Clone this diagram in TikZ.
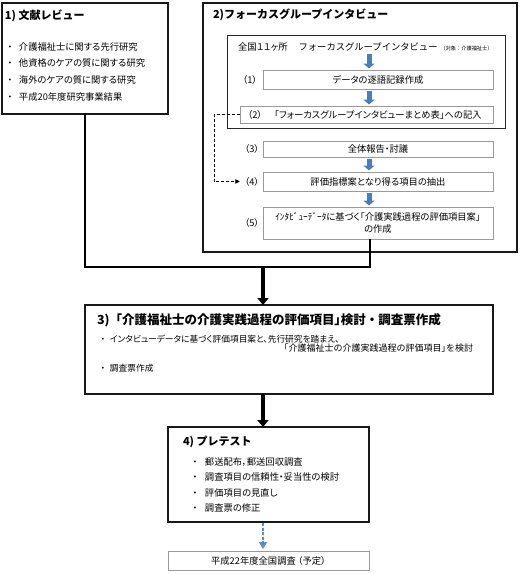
\documentclass[tikz,border=0pt]{standalone}
\usepackage{fontspec}
\setmainfont{Noto Sans CJK JP}[RawFeature={+palt}]
\newfontfamily\fw{Noto Sans CJK JP}
\newfontfamily\pf{Noto Sans CJK JP}[RawFeature={+palt}]
\usetikzlibrary{arrows.meta,calc}
\definecolor{arrowblue}{HTML}{4A7EBB}
\definecolor{dotblue}{HTML}{5B8BC9}
\newcommand\bul[2]{\makebox[#1]{・}#2}
\tikzset{
  bigbox/.style={draw=black!90, line width=1.6pt, rectangle, inner sep=0pt, outer sep=0pt},
  stepbox/.style={draw=black!40, line width=0.6pt, rectangle, inner sep=0pt, outer sep=0pt, font=\fontsize{9.3}{12}\selectfont, align=center},
  txt/.style={inner sep=0pt, outer sep=0pt, font=\fontsize{9.3}{11}\selectfont},
  head/.style={inner sep=0pt, outer sep=0pt, font=\fw\bfseries\fontsize{11}{13}\selectfont, anchor=west},
  conn/.style={line width=2pt, line join=miter},
  bigarrow/.style={line width=4pt, -{Triangle[width=11pt,length=7pt]}},
  bluearrow/.style={draw=arrowblue, line width=5pt, -{Triangle[width=11pt,length=5pt]}, shorten <=1.5pt, shorten >=1.5pt},
  dotarrow/.style={draw=dotblue, line width=2.5pt, dash pattern=on 3pt off 1.5pt, -{Triangle[width=8pt,length=7pt]}},
  dasharrow/.style={dash pattern=on 3pt off 2pt, line width=0.8pt, -{Triangle[width=4.5pt,length=4.5pt]}},
}
\begin{document}
\begin{tikzpicture}[x=1pt,y=-1pt]
\useasboundingbox (0,0) rectangle (520,574);
\fill[white] (0,0) rectangle (520,574);
% Box 1
\node[bigbox, minimum width=166pt, minimum height=111pt] (box1) at (85,58.5) {};
\node[head] (h1) at (5,16) {1) 文献レビュー};
\node[txt, anchor=west] (b1a) at (1,47) {\bul{18pt}{介護福祉士に関する先行研究}};
\node[txt, anchor=west] (b1b) at (1,63) {\bul{18pt}{他資格のケアの質に関する研究}};
\node[txt, anchor=west] (b1c) at (1,80) {\bul{18pt}{海外のケアの質に関する研究}};
\node[txt, anchor=west] (b1d) at (1,97) {\bul{18pt}{平成20年度研究事業結果}};
% Box 2
\node[bigbox, minimum width=314pt, minimum height=249pt] (box2) at (360,127.5) {};
\node[head] (h2) at (213,15) {2)フォーカスグループインタビュー};
\node[draw=black!85, line width=0.8pt, rectangle, minimum width=278pt, minimum height=93pt, inner sep=0pt, outer sep=0pt] (frame) at (366,81.5) {};
\node[txt, anchor=west] (zk) at (238,47) {全国１１ヶ所\hspace{11pt}{\fw\fontsize{9.3}{11}\selectfont フォーカスグループインタビュー}\hspace{3pt}{\fw\fontsize{5.2}{7}\selectfont （対象：介護福祉士）}};
\node[stepbox, minimum width=230pt, minimum height=19pt] (s1) at (378,79.5) {データの逐語記録作成};
\node[stepbox, minimum width=253pt, minimum height=17pt] (s2) at (366.5,114.5) {};
\node[txt] (s2t) at (378,114.5) {「フォーカスグループインタビューまとめ表」への記入};
\node[stepbox, minimum width=230pt, minimum height=16pt] (s3) at (378,149) {全体報告・討議};
\node[stepbox, minimum width=230pt, minimum height=19pt] (s4) at (378,181.5) {評価指標案となり得る項目の抽出};
\node[stepbox, minimum width=230pt, minimum height=32pt] (s5) at (378,223) {ｲﾝﾀﾋﾞｭｰﾃﾞｰﾀに基づく「介護実践過程の評価項目案」\\の作成};
\node[txt] (l1) at (250,80) {（1）};
\node[txt] (l2) at (255,114.5) {（2）};
\node[txt] (l3) at (252,149) {（3）};
\node[txt] (l4) at (252,181.5) {（4）};
\node[txt] (l5) at (252,223) {（5）};
\coordinate (ax) at (369,0);
\draw[bluearrow, shorten <=3pt] (zk.south -| ax) -- (s1.north -| ax);
\draw[bluearrow] (s1.south -| ax) -- (s2.north -| ax);
\draw[bluearrow] (s3.south -| ax) -- (s4.north -| ax);
\draw[bluearrow] (s4.south -| ax) -- (s5.north -| ax);
\draw[dasharrow, shorten >=5pt] (s2.west) -- ++(-26,0) |- (l4.west);
% connectors to box 3
\coordinate (j) at (263,267);
\coordinate (c5) at (370,0);
\draw[conn] (box1.south) |- (j);
\draw[conn] (s5.south -| c5) |- (j);
% Box 3
\node[bigbox, minimum width=408pt, minimum height=89pt] (box3) at (289,349.5) {};
\draw[bigarrow] (j) -- (j |- box3.north);
\node[head, font=\fw\bfseries\fontsize{12.5}{14}\selectfont] (h3) at (97,320) {3)「介護福祉士の介護実践過程の評価項目{\pf 」}検討・調査票作成};
\node[txt, anchor=west, font=\fontsize{8.7}{10}\selectfont] (b3a) at (96,339) {\bul{14pt}{インタビューデータに基づく評価項目案と、先行研究を踏まえ、}};
\node[txt, anchor=east, font=\fw\fontsize{9}{10}\selectfont] (b3b) at (473,348.5) {「介護福祉士の介護実践過程の評価項目{\pf 」}を検討};
\node[txt, anchor=west, font=\fontsize{8.7}{10}\selectfont] (b3c) at (96,368) {\bul{14pt}{調査票作成}};
% Box 4
\node[bigbox, minimum width=201pt, minimum height=95pt] (box4) at (268.5,474.5) {};
\draw[bigarrow] (j |- box3.south) -- (j |- box4.north);
\node[head] (h4) at (183,442) {4) プレテスト};
\node[txt, anchor=west] (b4a) at (185,462) {\bul{20pt}{郵送配布，郵送回収調査}};
\node[txt, anchor=west] (b4b) at (185,477) {\bul{20pt}{調査項目の信頼性・妥当性の検討}};
\node[txt, anchor=west] (b4c) at (185,493) {\bul{20pt}{評価項目の見直し}};
\node[txt, anchor=west] (b4d) at (185,508) {\bul{20pt}{調査票の修正}};
% Final
\node[stepbox, minimum width=201pt, minimum height=19pt] (fin) at (268.5,560.5) {平成22年度全国調査 （予定）};
\draw[dotarrow, shorten <=1pt, shorten >=2pt] (j |- box4.south) -- (j |- fin.north);
\end{tikzpicture}
\end{document}
